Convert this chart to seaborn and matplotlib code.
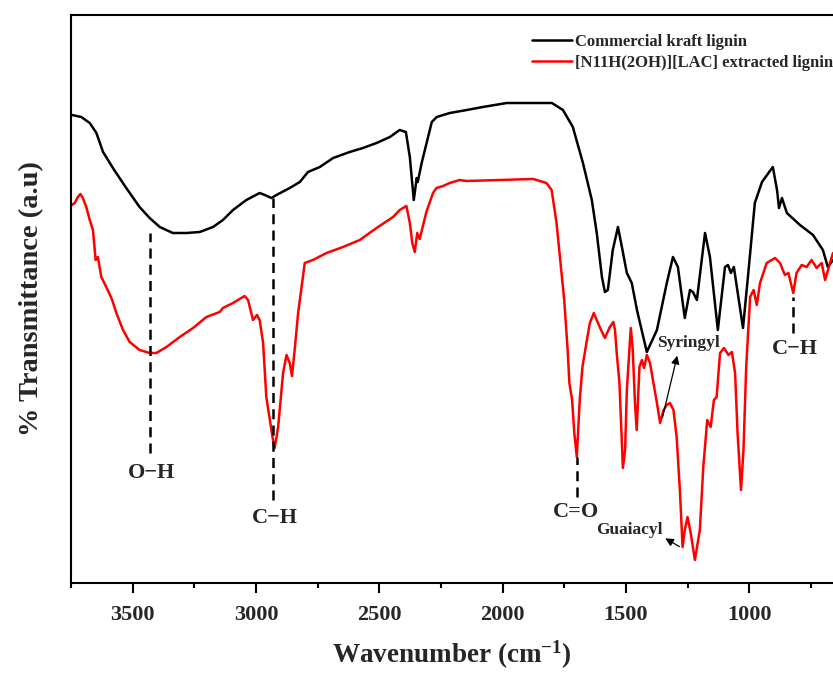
import pandas as pd
import seaborn as sns
import matplotlib.pyplot as plt
from matplotlib.ticker import MultipleLocator

# FTIR spectra (wavenumber in cm-1, transmittance in a.u.)
kraft_wn = [3746, 3708, 3674, 3647, 3620, 3580, 3526, 3472, 3431, 3390,
            3337, 3282, 3228, 3174, 3134, 3093, 3039, 2985, 2964, 2937,
            2917, 2863, 2822, 2789, 2741, 2687, 2620, 2566, 2511, 2457,
            2417, 2392, 2376, 2360, 2348, 2344, 2328, 2287, 2267, 2214,
            2145, 2080, 1983, 1877, 1800, 1755, 1715, 1674, 1638, 1618,
            1597, 1585, 1573, 1553, 1532, 1516, 1496, 1476, 1455, 1415,
            1374, 1334, 1309, 1289, 1261, 1240, 1228, 1212, 1179, 1159,
            1127, 1098, 1086, 1074, 1062, 1025, 1005, 977, 948, 904,
            887, 879, 867, 847, 794, 741, 701, 681, 660]
kraft_t = [468, 466, 460, 450, 431, 415, 395, 376, 365, 356,
           350, 350, 351, 356, 363, 373, 383, 390, 388, 385,
           388, 395, 401, 411, 416, 425, 431, 435, 440, 446,
           453, 451, 426, 383, 405, 401, 420, 461, 466, 470,
           473, 476, 480, 480, 480, 473, 456, 420, 383, 350,
           306, 291, 293, 333, 356, 336, 310, 300, 273, 231,
           253, 300, 326, 316, 265, 293, 291, 283, 350, 326,
           253, 316, 318, 310, 316, 255, 306, 380, 401, 416,
           393, 375, 385, 370, 358, 348, 333, 316, 323]

il_wn = [3746, 3735, 3722, 3712, 3702, 3688, 3674, 3661, 3650, 3641,
         3627, 3607, 3586, 3566, 3539, 3512, 3472, 3431, 3404, 3363,
         3309, 3255, 3201, 3147, 3134, 3093, 3046, 3032, 3012, 2996,
         2985, 2971, 2958, 2931, 2924, 2910, 2890, 2876, 2863, 2854,
         2843, 2829, 2802, 2769, 2714, 2647, 2579, 2511, 2444, 2417,
         2390, 2376, 2366, 2356, 2346, 2336, 2309, 2282, 2268, 2241,
         2214, 2174, 2146, 2011, 1876, 1822, 1801, 1781, 1768, 1763,
         1750, 1736, 1729, 1718, 1709, 1699, 1687, 1676, 1660, 1646,
         1630, 1606, 1585, 1565, 1551, 1544, 1537, 1526, 1512, 1503,
         1496, 1480, 1472, 1463, 1456, 1445, 1435, 1426, 1415, 1402,
         1388, 1374, 1361, 1347, 1334, 1321, 1307, 1294, 1281, 1270,
         1261, 1250, 1237, 1220, 1200, 1186, 1170, 1156, 1143, 1132,
         1118, 1102, 1084, 1070, 1057, 1047, 1033, 1023, 1012, 996,
         982, 969, 956, 929, 895, 875, 855, 841, 821, 808,
         787, 767, 747, 726, 706, 692, 678, 660]
il_t = [378, 380, 386, 389, 385, 376, 363, 353, 323, 326,
        306, 296, 285, 270, 253, 241, 233, 230, 230, 236,
        246, 255, 266, 271, 275, 280, 287, 283, 263, 268,
        263, 240, 186, 143, 135, 156, 210, 228, 220, 207,
        233, 270, 320, 323, 330, 336, 343, 355, 366, 373,
        377, 360, 340, 331, 350, 344, 371, 390, 395, 397,
        400, 403, 402, 403, 404, 400, 393, 360, 328, 316,
        283, 233, 200, 183, 150, 126, 183, 216, 240, 260,
        270, 256, 245, 256, 261, 253, 230, 200, 115, 133,
        193, 255, 233, 180, 153, 216, 223, 215, 228, 220,
        200, 180, 160, 173, 178, 180, 173, 146, 93, 36,
        53, 66, 50, 23, 53, 116, 163, 156, 183, 186,
        230, 235, 228, 231, 210, 150, 93, 133, 216, 286,
        293, 278, 300, 320, 325, 320, 308, 310, 290, 310,
        318, 316, 323, 315, 320, 303, 315, 330]

labels = ['Commercial kraft lignin', '[N11H(2OH)][LAC] extracted lignin']
colors = ['black', 'red']

df = pd.concat([
    pd.DataFrame({'wn': kraft_wn, 'T': kraft_t, 'sample': labels[0]}),
    pd.DataFrame({'wn': il_wn, 'T': il_t, 'sample': labels[1]}),
])

sns.set_theme(style="ticks")
plt.rcParams['font.family'] = ['Liberation Serif', 'DejaVu Serif']
plt.rcParams['font.weight'] = 'bold'
plt.rcParams['axes.labelweight'] = 'bold'
plt.rcParams['mathtext.fontset'] = 'custom'
plt.rcParams['mathtext.rm'] = 'Liberation Serif:bold'
plt.rcParams['mathtext.default'] = 'rm'

fig = plt.figure(figsize=(8.33, 6.73), dpi=100)
ax = fig.add_axes([71 / 833, 90 / 673, 762 / 833, 568 / 673])

sns.lineplot(data=df, x='wn', y='T', hue='sample', palette=dict(zip(labels, colors)),
             estimator=None, sort=False, linewidth=1.8, ax=ax)

ax.set_xlim(3750, 660)
ax.set_ylim(0, 568)
ax.set_yticks([])
ax.xaxis.set_major_locator(MultipleLocator(500))
ax.xaxis.set_minor_locator(MultipleLocator(250))
ax.tick_params(axis='x', which='major', direction='out', length=7, width=1.5,
               labelsize=16, pad=9, color='black')
ax.tick_params(axis='x', which='minor', direction='out', length=3.5, width=1.5, color='black')
for side in ['left', 'bottom', 'top']:
    ax.spines[side].set_linewidth(1.5)
    ax.spines[side].set_color('black')
ax.spines['right'].set_visible(False)

ax.set_xlabel('Wavenumber (cm$^{-1}$)', fontsize=19.5, labelpad=10)
ax.set_ylabel('% Transmittance (a.u)', fontsize=20.5, labelpad=19)

# peak markers
dash = dict(color='black', linestyle=(0, (4, 2.5)), linewidth=1.8)
ax.vlines(3431, 130, 350, **dash)
ax.vlines(2932, 83, 385, **dash)
ax.vlines(1699, 86, 126, **dash)
ax.vlines(821, 250, 286, **dash)
lab = dict(ha='center', va='center', fontsize=16, fontweight='bold')
ax.text(3425, 110, 'O\u2212H', **lab)
ax.text(2924, 65, 'C\u2212H', **lab)
ax.text(1703, 71, 'C=O', **lab)
ax.text(813, 234, 'C\u2212H', **lab)

ax.annotate('', xy=(1289, 230), xytext=(1354, 163),
            arrowprops=dict(arrowstyle='-|>', color='black', lw=0.9))
ax.text(1248, 240, 'Syringyl', fontsize=12.5, fontweight='bold', ha='center', va='center')
ax.annotate('', xy=(1350, 46), xytext=(1273, 35),
            arrowprops=dict(arrowstyle='-|>', color='black', lw=0.9))
ax.text(1484, 53, 'Guaiacyl', fontsize=12.5, fontweight='bold', ha='center', va='center')

handles, _ = ax.get_legend_handles_labels()
ax.legend(handles, labels, loc='upper left', bbox_to_anchor=(0.605, 0.966),
          frameon=False, fontsize=12, handlelength=2.4, handletextpad=0.15,
          labelspacing=0.27, borderpad=0, borderaxespad=0)

fig.savefig('out.png', dpi=100)
